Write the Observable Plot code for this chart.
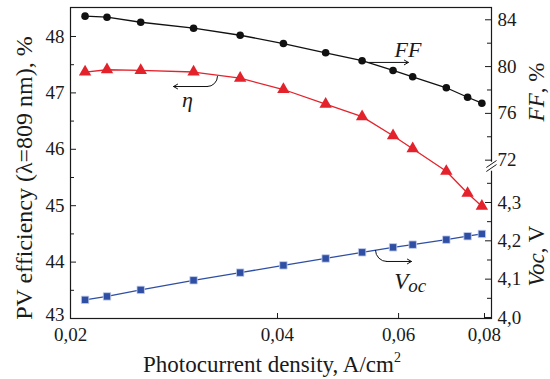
<!DOCTYPE html>
<html><head><meta charset="utf-8">
<script src="https://cdn.jsdelivr.net/npm/d3@7"></script>
<script src="https://cdn.jsdelivr.net/npm/@observablehq/plot@0.6"></script>
<style>body{margin:0;background:#fff} svg{display:block}</style>
</head><body><div id="chart"></div>
<script>
// ---- data ----
const current = [0.0210, 0.0226, 0.0253, 0.0302, 0.0353, 0.0408, 0.0470, 0.0531, 0.0589, 0.0629, 0.0704, 0.0756, 0.0793];
const eta = [47.37, 47.41, 47.40, 47.37, 47.26, 47.06, 46.80, 46.58, 46.24, 46.01, 45.61, 45.22, 44.99];
const ff = [84.31, 84.22, 83.79, 83.28, 82.68, 81.97, 81.18, 80.50, 79.67, 79.13, 78.19, 77.38, 76.87];
const voc = [4.046, 4.055, 4.072, 4.097, 4.117, 4.136, 4.154, 4.170, 4.183, 4.190, 4.203, 4.212, 4.218];

const xTicks = [0.02, 0.04, 0.06, 0.08];
const etaTicks = [43, 44, 45, 46, 47, 48];
const etaMinor = [43.5, 44.5, 45.5, 46.5, 47.5];
const ffTicks = [72, 76, 80, 84];
const ffMinor = [74, 78, 82];
const vocTicks = [4.0, 4.1, 4.2, 4.3];
const vocMinor = [4.05, 4.15, 4.25, 4.35];

// secondary (right) axis mappings into the η scale
const ffToEta = f => 48.296 + (f - 84) * 0.2074;
const vocToEta = v => 43.018 + (v - 4) * 6.796;

const rows = current.map((c, i) => ({c, eta: eta[i], ff: ff[i], voc: voc[i]}));
const rightTicks = [
  ...ffTicks.map(v => ({y: ffToEta(v), label: String(v)})),
  ...vocTicks.map(v => ({y: vocToEta(v), label: v.toFixed(1).replace(".", ",")}))
];
const rightMinor = [...ffMinor.map(ffToEta), ...vocMinor.map(vocToEta)];

// annotations (data units): curved start + straight arrow
const annFF = {x1: 0.0543, x2: 0.0620, y: 47.54, tx: 0.0619, ty: 47.76};
const etaArc = {x1: 0.03272, y1: 47.291, x2: 0.03164, y2: 47.113};
const etaArrow = {x1: 0.03164, y1: 47.113, x2: 0.02824, y2: 47.113};
const etaLabel = {x: 0.0296, y: 46.87};
const vocArc = {x1: 0.05554, y1: 44.206, x2: 0.05763, y2: 44.011};
const vocArrow = {x1: 0.05763, y1: 44.011, x2: 0.06264, y2: 44.011};
const vocLabel = {x: 0.0624, y: 43.66};
const breakMarks = [
  {x1: 0.0805, y1: 45.677, x2: 0.0833, y2: 45.801},
  {x1: 0.0805, y1: 45.606, x2: 0.0833, y2: 45.730}
];

const W = 550, H = 379, ML = 70, MR = 59, MT = 7, MB = 61;
const FW = W - ML - MR, FH = H - MT - MB;
const red = "#e4222b", blue = "#2f4fa4";
const serif = "'Liberation Serif', 'Times New Roman', Times, 'DejaVu Serif', serif";

const link = (d, o = {}) => Plot.link([d], {x1: "x1", y1: "y1", x2: "x2", y2: "y2", stroke: "#111", strokeWidth: 1, ...o});

const chart = Plot.plot({
  width: W, height: H,
  marginLeft: ML, marginRight: MR, marginTop: MT, marginBottom: MB,
  style: {fontFamily: serif, fontSize: "19px", color: "#1a1a1a", background: "white", overflow: "visible"},
  x: {type: "log", domain: [0.02, 0.0819]},
  y: {domain: [43, 48.514]},
  marks: [
    Plot.frame({stroke: "#1a1a1a", strokeWidth: 1.2}),
    // break on right axis
    Plot.link([{y1: 45.62, y2: 45.78}], {x1: 0.0819, x2: 0.0819, y1: "y1", y2: "y2", stroke: "white", strokeWidth: 4, clip: false}),
    Plot.link(breakMarks, {x1: "x1", y1: "y1", x2: "x2", y2: "y2", stroke: "#1a1a1a", strokeWidth: 1, clip: false}),
    // ticks (inward)
    Plot.tickY(etaTicks, {y: d => d, insetRight: FW - 6, stroke: "#1a1a1a"}),
    Plot.tickY(etaMinor, {y: d => d, insetRight: FW - 4, stroke: "#1a1a1a"}),
    Plot.tickY(rightTicks, {y: "y", insetLeft: FW - 6, stroke: "#1a1a1a"}),
    Plot.tickY(rightMinor, {y: d => d, insetLeft: FW - 4, stroke: "#1a1a1a"}),
    Plot.tickX(xTicks.slice(1), {x: d => d, insetTop: FH - 5, stroke: "#1a1a1a"}),
    Plot.axisY({ticks: etaTicks, tickSize: 0, tickPadding: 6, tickFormat: d => String(d), label: null}),
    Plot.axisX({ticks: xTicks, tickSize: 0, tickPadding: 9, tickFormat: d => d.toFixed(2).replace(".", ","), label: null}),
    Plot.text(rightTicks, {y: "y", text: "label", frameAnchor: "right", dx: 6, textAnchor: "start"}),
    // series
    Plot.line(rows, {x: "c", y: d => ffToEta(d.ff), stroke: "#111", strokeWidth: 1.3}),
    Plot.dot(rows, {x: "c", y: d => ffToEta(d.ff), r: 3.8, fill: "#111"}),
    Plot.line(rows, {x: "c", y: "eta", stroke: red, strokeWidth: 1.3}),
    Plot.dot(rows, {x: "c", y: "eta", symbol: "triangle", r: 4.6, fill: red}),
    Plot.line(rows, {x: "c", y: d => vocToEta(d.voc), stroke: blue, strokeWidth: 1.3}),
    Plot.dot(rows, {x: "c", y: d => vocToEta(d.voc), symbol: "square", r: 4.2, fill: blue, stroke: "#c8d2ee", strokeWidth: 0.8}),
    // annotations
    Plot.arrow([annFF], {x1: "x1", x2: "x2", y1: "y", y2: "y", stroke: "#111", strokeWidth: 1, headLength: 7}),
    Plot.text([annFF], {x: "tx", y: "ty", text: () => "FF", fontStyle: "italic", fontSize: 22}),
    Plot.arrow([etaArc], {x1: "x1", y1: "y1", x2: "x2", y2: "y2", bend: 45, headLength: 0, stroke: "#111", strokeWidth: 1}),
    Plot.arrow([etaArrow], {x1: "x1", y1: "y1", x2: "x2", y2: "y2", stroke: "#111", strokeWidth: 1, headLength: 7}),
    Plot.text([etaLabel], {x: "x", y: "y", text: () => "η", fontStyle: "italic", fontSize: 22}),
    Plot.arrow([vocArc], {x1: "x1", y1: "y1", x2: "x2", y2: "y2", bend: -45, headLength: 0, stroke: "#111", strokeWidth: 1}),
    Plot.arrow([vocArrow], {x1: "x1", y1: "y1", x2: "x2", y2: "y2", stroke: "#111", strokeWidth: 1, headLength: 7}),
    Plot.text([vocLabel], {x: "x", y: "y", text: () => "Voc", fontStyle: "italic", fontSize: 23})
  ]
});

document.getElementById("chart").appendChild(chart);
const svg = d3.select(chart);

// raise the bottom-left "43" label slightly, as in the reference
svg.selectAll("text").filter(function() { return this.textContent === "43"; }).each(function() {
  const tr = this.getAttribute("transform") || "";
  this.setAttribute("transform", (tr + " translate(0,-4)").trim());
});

// subscript-ish "oc"
svg.selectAll("text").filter(function() { return this.textContent === "Voc"; }).each(function() {
  const t = d3.select(this);
  t.text("");
  t.append("tspan").text("V");
  t.append("tspan").attr("font-size", 19).attr("dy", "0.2em").text("oc");
});

const titles = svg.append("g").attr("font-family", serif).attr("fill", "#1a1a1a");
titles.append("text")
  .attr("transform", "translate(32,178) rotate(-90)")
  .attr("text-anchor", "middle").attr("font-size", 24)
  .text("PV efficiency (λ=809 nm), %");
const xl = titles.append("text")
  .attr("x", 272).attr("y", 372)
  .attr("text-anchor", "middle").attr("font-size", 23);
xl.append("tspan").text("Photocurrent density, A/cm");
xl.append("tspan").attr("font-size", 14).attr("dy", "-0.75em").text("2");
const ffl = titles.append("text")
  .attr("transform", "translate(544,92) rotate(-90)")
  .attr("text-anchor", "middle").attr("font-size", 23);
ffl.append("tspan").attr("font-style", "italic").text("FF");
ffl.append("tspan").text(", %");
const vl = titles.append("text")
  .attr("transform", "translate(544,256) rotate(-90)")
  .attr("text-anchor", "middle").attr("font-size", 23);
vl.append("tspan").attr("font-style", "italic").text("Voc");
vl.append("tspan").text(", V");
</script>
</body></html>
